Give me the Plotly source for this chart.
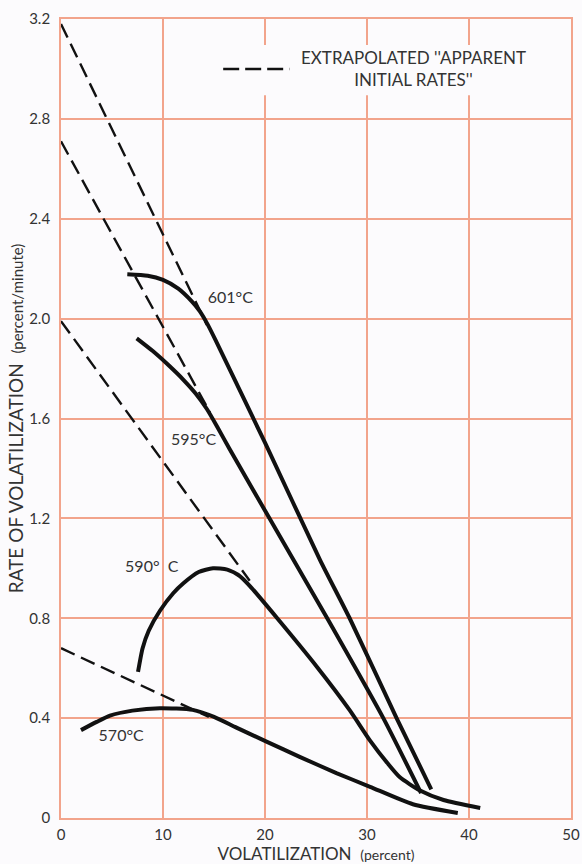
import plotly.graph_objects as go

# ---- data ----
x601 = [6.5, 8.5, 10.0, 11.5, 12.8, 13.6, 14.4, 15.2, 20.0, 25.4, 28.3, 32.9, 36.3]
y601 = [2.178, 2.172, 2.155, 2.12, 2.07, 2.03, 1.975, 1.91, 1.503, 1.033, 0.80, 0.40, 0.115]
x601_ext = [0.0, 14.3]
y601_ext = [3.18, 1.975]

x595 = [7.42, 9.0, 10.5, 12.0, 13.2, 14.3, 15.3, 16.5, 22.8, 26.1, 31.6, 35.3]
y595 = [1.921, 1.87, 1.815, 1.755, 1.70, 1.638, 1.568, 1.48, 1.033, 0.80, 0.40, 0.10]
x595_ext = [0.0, 14.6]
y595_ext = [2.71, 1.625]

x590 = [7.55, 8.0, 8.6, 9.7, 11.0, 12.0, 13.5, 14.9, 16.3, 17.5, 18.5, 21.2, 25.1,
        28.3, 30.3, 32.0, 33.2, 35.2, 37.5, 41.1]
y590 = [0.585, 0.68, 0.75, 0.83, 0.90, 0.94, 0.985, 1.0, 0.995, 0.97, 0.93, 0.80, 0.605,
        0.432, 0.31, 0.22, 0.164, 0.11, 0.072, 0.04]
x590_ext = [0.0, 18.5]
y590_ext = [1.99, 0.95]

x570 = [1.96, 3.5, 4.8, 7.0, 9.7, 12.9, 15.0, 17.2, 20.2, 23.4, 27.0, 30.3, 34.5, 38.9]
y570 = [0.352, 0.385, 0.41, 0.43, 0.44, 0.433, 0.405, 0.362, 0.305, 0.245, 0.18, 0.125, 0.055, 0.02]
x570_ext = [0.0, 14.5]
y570_ext = [0.68, 0.405]

labels = ["601°C", "595°C", "590°  C", "570°C"]
label_x = [16.6, 13.0, 8.9, 5.9]
label_y = [2.08, 1.51, 1.00, 0.325]

x_ticks = [0, 10, 20, 30, 40, 50]
y_ticks = [0, 0.4, 0.8, 1.2, 1.6, 2.0, 2.4, 2.8, 3.2]
y_ticklabels = ["0", "0.4", "0.8", "1.2", "1.6", "2.0", "2.4", "2.8", "3.2"]

legend_text = "EXTRAPOLATED ''APPARENT<br>INITIAL RATES''"

# ---- style ----
GRID = "#F2A48C"
INK = "#111111"
TEXT = "#333333"
BG = "#FCFBFD"
FONT = "Lato, 'Noto Sans', sans-serif"

fig = go.Figure()

solid = [(x601, y601), (x595, y595), (x590, y590), (x570, y570)]
dashed = [(x601_ext, y601_ext), (x595_ext, y595_ext), (x590_ext, y590_ext), (x570_ext, y570_ext)]

for xs, ys in dashed:
    fig.add_trace(go.Scatter(x=xs, y=ys, mode="lines", showlegend=False, hoverinfo="skip",
                             line=dict(color=INK, width=2.4, dash="15px,7px")))
for xs, ys in solid:
    fig.add_trace(go.Scatter(x=xs, y=ys, mode="lines", showlegend=False,
                             line=dict(color=INK, width=4, shape="spline", smoothing=0.6)))

fig.add_trace(go.Scatter(x=label_x, y=label_y, mode="text", text=labels, showlegend=False,
                         textfont=dict(family=FONT, size=16, color=TEXT), hoverinfo="skip"))

# legend box (white patch interrupting the grid), sample line and text
fig.add_shape(type="rect", xref="x", yref="y", x0=15.1, x1=43.8, y0=2.895, y1=3.096,
              fillcolor=BG, line=dict(width=0), layer="between")
fig.add_shape(type="line", xref="x", yref="y", x0=15.9, x1=22.4, y0=3.0, y1=3.0,
              line=dict(color=INK, width=2.4, dash="16px,6px"))
fig.add_annotation(x=34.6, y=3.0, xref="x", yref="y", text=legend_text, showarrow=False,
                   align="center", font=dict(family=FONT, size=17, color=TEXT))

fig.update_xaxes(range=[0, 50], tickvals=x_ticks, showgrid=True, gridcolor=GRID, gridwidth=1.5,
                 zeroline=False, showline=True, linecolor=GRID, linewidth=1.8, mirror=True,
                 ticks="", ticklabelstandoff=2, automargin=False,
                 tickfont=dict(family=FONT, size=15, color=TEXT),
                 title=dict(text="VOLATILIZATION  <span style='font-size:14px'>(percent)</span>",
                            font=dict(family=FONT, size=17, color=TEXT), standoff=5))
fig.update_yaxes(range=[0, 3.2], tickvals=y_ticks, ticktext=y_ticklabels, showgrid=True,
                 gridcolor=GRID, gridwidth=1.5, zeroline=False, showline=True, linecolor=GRID,
                 linewidth=1.8, mirror=True, ticks="", ticklabelstandoff=6, automargin=False,
                 tickfont=dict(family=FONT, size=15, color=TEXT),
                 title=dict(text="RATE OF VOLATILIZATION  <span style='font-size:15px'>(percent/minute)</span>",
                            font=dict(family=FONT, size=19, color=TEXT), standoff=0))

fig.update_layout(width=582, height=864, margin=dict(l=61, r=11, t=19, b=46, autoexpand=False),
                  paper_bgcolor=BG, plot_bgcolor=BG, font=dict(family=FONT))

fig.write_html("out.html", config={"displayModeBar": False},
               post_script="document.body.style.margin='0';")
